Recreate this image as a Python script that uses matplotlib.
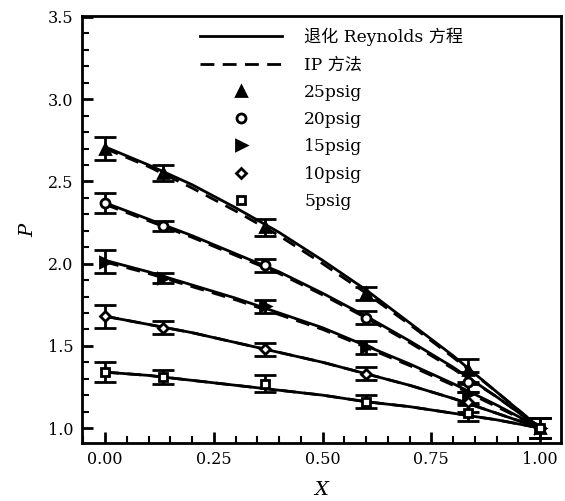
import matplotlib
matplotlib.use("Agg")
import matplotlib.pyplot as plt
from matplotlib.ticker import MultipleLocator, FormatStrFormatter

# ---- data ----
x_pts = [0.0, 0.133, 0.368, 0.60, 0.834, 1.0]
p25 = [2.70, 2.55, 2.22, 1.82, 1.35, 1.0]
p20 = [2.37, 2.23, 1.99, 1.67, 1.28, 1.0]
p15 = [2.01, 1.91, 1.74, 1.49, 1.21, 1.0]
p10 = [1.68, 1.61, 1.48, 1.33, 1.16, 1.0]
p5 = [1.34, 1.31, 1.27, 1.16, 1.09, 1.0]
err25 = [0.07, 0.05, 0.05, 0.04, 0.07, 0.06]
err20 = [0.06, 0.03, 0.04, 0.04, 0.06, 0.06]
err15 = [0.07, 0.03, 0.04, 0.04, 0.06, 0.06]
err10 = [0.07, 0.04, 0.04, 0.04, 0.06, 0.06]
err5 = [0.06, 0.04, 0.05, 0.04, 0.05, 0.06]

x_line = [0.0, 0.1, 0.2, 0.3, 0.4, 0.5, 0.6, 0.7, 0.8, 0.9, 1.0]
rey25 = [2.71, 2.60, 2.48, 2.34, 2.19, 2.02, 1.84, 1.64, 1.44, 1.22, 1.0]
rey20 = [2.37, 2.27, 2.17, 2.06, 1.95, 1.82, 1.68, 1.53, 1.37, 1.19, 1.0]
rey15 = [2.02, 1.95, 1.87, 1.79, 1.70, 1.61, 1.50, 1.39, 1.27, 1.14, 1.0]
rey10 = [1.68, 1.63, 1.58, 1.52, 1.46, 1.40, 1.33, 1.26, 1.18, 1.09, 1.0]
rey5 = [1.34, 1.32, 1.29, 1.26, 1.23, 1.20, 1.16, 1.13, 1.09, 1.05, 1.0]
ip25 = [2.70, 2.59, 2.46, 2.32, 2.17, 2.00, 1.82, 1.63, 1.43, 1.22, 1.0]
ip20 = [2.36, 2.26, 2.16, 2.05, 1.94, 1.81, 1.67, 1.52, 1.36, 1.19, 1.0]
ip15 = [2.01, 1.94, 1.86, 1.78, 1.69, 1.60, 1.49, 1.38, 1.26, 1.13, 1.0]
ip10 = [1.68, 1.63, 1.58, 1.52, 1.46, 1.40, 1.33, 1.26, 1.18, 1.09, 1.0]
ip5 = [1.34, 1.32, 1.29, 1.26, 1.23, 1.20, 1.16, 1.13, 1.09, 1.05, 1.0]

labels = ["25psig", "20psig", "15psig", "10psig", "5psig"]
line_label = "退化 Reynolds 方程"
ip_label = "IP 方法"
xticks = [0.0, 0.25, 0.5, 0.75, 1.0]
yticks = [1.0, 1.5, 2.0, 2.5, 3.0, 3.5]

serif = ["DejaVu Serif", "Noto Sans CJK SC"]
plt.rcParams["font.family"] = serif
plt.rcParams["mathtext.fontset"] = "dejavuserif"

fig = plt.figure(figsize=(5.65, 5.01), dpi=100)
ax = fig.add_axes([82 / 565, (501 - 443) / 501, (561 - 82) / 565, (443 - 16) / 501])

rey = [rey25, rey20, rey15, rey10, rey5]
ips = [ip25, ip20, ip15, ip10, ip5]
pts = [p25, p20, p15, p10, p5]
errs = [err25, err20, err15, err10, err5]
markers = ["^", "o", ">", "D", "s"]
faces = ["black", "white", "black", "white", "white"]
msizes = [7, 6.5, 6.5, 5.5, 5.5]

hl = None
for i in range(5):
    l1, = ax.plot(x_line, rey[i], color="black", lw=2.0, zorder=3)
    l2, = ax.plot(x_line, ips[i], color="black", lw=2.0, ls=(0, (5, 3)), zorder=3)
    if i == 0:
        hl = (l1, l2)
handles = [hl[0], hl[1]]
for i in range(5):
    ax.errorbar(x_pts, pts[i], yerr=errs[i], fmt="none", ecolor="black",
                elinewidth=2.0, capsize=8, capthick=2.0, zorder=4)
    h, = ax.plot(x_pts, pts[i], ls="none", marker=markers[i], ms=msizes[i],
                 mfc=faces[i], mec="black", mew=2.0, zorder=5)
    handles.append(h)

ax.set_xlim(-0.053, 1.048)
ax.set_ylim(0.909, 3.506)
ax.set_xticks(xticks)
ax.set_yticks(yticks)
ax.xaxis.set_major_formatter(FormatStrFormatter("%.2f"))
ax.yaxis.set_major_formatter(FormatStrFormatter("%.1f"))
ax.xaxis.set_minor_locator(MultipleLocator(0.05))
ax.yaxis.set_minor_locator(MultipleLocator(0.1))
ax.tick_params(which="both", direction="in", top=False, right=False,
               labelsize=11.5, width=2.0)
ax.tick_params(which="major", length=8, pad=6)
ax.tick_params(which="minor", length=5, width=1.5)
for s in ax.spines.values():
    s.set_linewidth(2.0)

ax.set_xlabel("$X$", fontsize=14, labelpad=9)
ax.set_ylabel("$P$", fontsize=14, labelpad=8)

ax.legend(handles, [line_label, ip_label] + labels, loc="upper left",
          bbox_to_anchor=(0.246, 0.972), frameon=False, fontsize=12.3,
          handlelength=4.8, handletextpad=1.3, labelspacing=0.6,
          borderpad=0, borderaxespad=0, numpoints=1)

fig.savefig("out.png", dpi=100)
